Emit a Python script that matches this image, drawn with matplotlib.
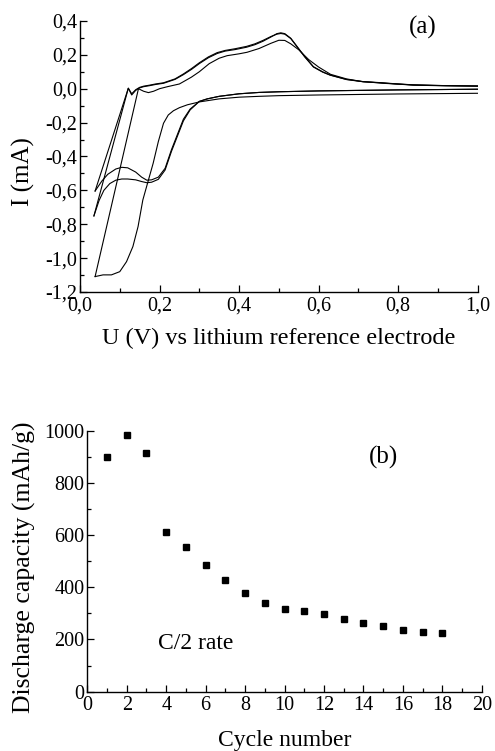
import matplotlib
matplotlib.use("Agg")
import matplotlib.pyplot as plt
from matplotlib.ticker import MultipleLocator, FuncFormatter

plt.rcParams['font.family'] = ['Liberation Serif', 'DejaVu Serif']

# ---------------- (a) cyclic voltammetry ----------------
# cycle 1 - cathodic scan (1.0 V -> 0.04 V)
c1_cat_U = [1.0, 0.9, 0.8, 0.7, 0.6, 0.5, 0.45, 0.4, 0.35, 0.3, 0.27, 0.25, 0.235, 0.222,
            0.21, 0.197, 0.184, 0.172, 0.158, 0.146, 0.133, 0.117, 0.1, 0.079, 0.058, 0.038]
c1_cat_I = [-0.027, -0.029, -0.031, -0.034, -0.037, -0.041, -0.045, -0.05, -0.06, -0.078,
            -0.095, -0.112, -0.13, -0.155, -0.204, -0.312, -0.44, -0.54, -0.657, -0.814,
            -0.932, -1.021, -1.08, -1.099, -1.099, -1.109]
# cycle 1 - anodic scan (0.04 V -> 1.0 V)
c1_an_U = [0.038, 0.147, 0.16, 0.172, 0.185, 0.2, 0.22, 0.25, 0.28, 0.3, 0.325, 0.35, 0.37,
           0.4, 0.42, 0.45, 0.48, 0.5, 0.515, 0.53, 0.55, 0.575, 0.6, 0.63, 0.67, 0.71,
           0.77, 0.84, 0.92, 1.0]
c1_an_I = [-1.109, 0.0, -0.015, -0.023, -0.015, 0.0, 0.012, 0.028, 0.068, 0.1, 0.148, 0.18,
           0.195, 0.206, 0.215, 0.237, 0.268, 0.286, 0.285, 0.265, 0.23, 0.172, 0.128,
           0.085, 0.058, 0.042, 0.031, 0.023, 0.018, 0.016]
# cycle 2 - cathodic
c2_cat_U = [1.0, 0.9, 0.8, 0.7, 0.6, 0.5, 0.45, 0.4, 0.35, 0.32, 0.3, 0.277, 0.26, 0.245,
            0.23, 0.214, 0.197, 0.18, 0.168, 0.155, 0.14, 0.12, 0.105, 0.09, 0.07, 0.055, 0.038]
c2_cat_I = [-0.003, -0.005, -0.007, -0.01, -0.013, -0.018, -0.022, -0.03, -0.045, -0.06,
            -0.075, -0.12, -0.18, -0.27, -0.36, -0.47, -0.522, -0.538, -0.54, -0.522,
            -0.492, -0.467, -0.464, -0.474, -0.505, -0.545, -0.604]
# cycle 2 - anodic
c2_an_U = [0.038, 0.1215, 0.13, 0.14, 0.15, 0.16, 0.175, 0.19, 0.21, 0.239, 0.26, 0.281,
           0.3, 0.323, 0.345, 0.365, 0.39, 0.419, 0.44, 0.46, 0.48, 0.495, 0.505, 0.515,
           0.53, 0.545, 0.565, 0.587, 0.61, 0.629, 0.67, 0.712, 0.754, 0.8, 0.838, 0.9, 1.0]
c2_an_I = [-0.604, 0.003, -0.037, -0.01, 0.005, 0.012, 0.018, 0.025, 0.032, 0.055, 0.083,
           0.115, 0.148, 0.183, 0.208, 0.222, 0.231, 0.245, 0.26, 0.28, 0.305, 0.325,
           0.33, 0.325, 0.298, 0.252, 0.19, 0.13, 0.1, 0.081, 0.055, 0.042, 0.036, 0.028,
           0.022, 0.019, 0.016]
# cycle 3 - cathodic
c3_cat_U = [1.0, 0.9, 0.8, 0.7, 0.6, 0.5, 0.45, 0.4, 0.35, 0.32, 0.3, 0.277, 0.26, 0.245,
            0.23, 0.214, 0.197, 0.18, 0.168, 0.155, 0.14, 0.12, 0.105, 0.09, 0.075, 0.06,
            0.048, 0.035]
c3_cat_I = [-0.003, -0.005, -0.007, -0.01, -0.013, -0.018, -0.022, -0.03, -0.045, -0.06,
            -0.075, -0.125, -0.19, -0.28, -0.37, -0.48, -0.535, -0.552, -0.555, -0.548,
            -0.538, -0.533, -0.533, -0.54, -0.56, -0.6, -0.66, -0.751]
# cycle 3 - anodic
c3_an_U = [0.035, 0.1215, 0.13, 0.14, 0.15, 0.16, 0.175, 0.19, 0.21, 0.239, 0.26, 0.281,
           0.3, 0.323, 0.345, 0.365, 0.39, 0.419, 0.44, 0.46, 0.48, 0.495, 0.505, 0.515,
           0.53, 0.545, 0.565, 0.587, 0.61, 0.629, 0.67, 0.712, 0.754, 0.8, 0.838, 0.9, 1.0]
c3_an_I = [-0.751, 0.003, -0.03, -0.006, 0.008, 0.015, 0.021, 0.028, 0.035, 0.058, 0.087,
           0.12, 0.153, 0.188, 0.213, 0.226, 0.236, 0.25, 0.265, 0.285, 0.308, 0.322,
           0.326, 0.322, 0.296, 0.25, 0.188, 0.128, 0.098, 0.08, 0.054, 0.041, 0.035,
           0.027, 0.021, 0.018, 0.015]

# ---------------- (b) discharge capacity ----------------
cycles = [1, 2, 3, 4, 5, 6, 7, 8, 9, 10, 11, 12, 13, 14, 15, 16, 17, 18]
capacity = [900, 982, 916, 612, 554, 487, 427, 378, 341, 318, 310, 298, 280, 264, 250,
            236, 230, 224]

fig = plt.figure(figsize=(4.95, 7.51), dpi=100)

comma = FuncFormatter(lambda v, p: ("%.1f" % v).replace('.', ',').replace('-0,0', '0,0'))


def style(ax):
    for s in ('top', 'right'):
        ax.spines[s].set_visible(False)
    ax.tick_params(which='both', direction='in', top=False, right=False,
                   labelsize=14.5, width=0.9, pad=3)
    ax.tick_params(which='major', length=5)
    ax.tick_params(which='minor', length=3)
    ax.tick_params(axis='y', pad=2)
    for s in ('left', 'bottom'):
        ax.spines[s].set_linewidth(1.0)


ax1 = fig.add_axes([0.1616, 0.6112, 0.8034, 0.3609])
for U, I in [(c1_cat_U, c1_cat_I), (c1_an_U, c1_an_I), (c2_cat_U, c2_cat_I),
             (c2_an_U, c2_an_I), (c3_cat_U, c3_cat_I), (c3_an_U, c3_an_I)]:
    ax1.plot(U, I, color='black', lw=0.8)
ax1.set_xlim(0, 1.0)
ax1.set_ylim(-1.2, 0.4)
ax1.xaxis.set_major_locator(MultipleLocator(0.2))
ax1.xaxis.set_minor_locator(MultipleLocator(0.1))
ax1.yaxis.set_major_locator(MultipleLocator(0.2))
ax1.yaxis.set_minor_locator(MultipleLocator(0.1))
ax1.xaxis.set_major_formatter(comma)
ax1.yaxis.set_major_formatter(comma)
style(ax1)
ax1.set_xlabel('U (V) vs lithium reference electrode', fontsize=17.5, labelpad=9)
ax1.set_ylabel('I (mA)', fontsize=18)
ax1.yaxis.set_label_coords(-0.112, 0.443)
ax1.text(0.862, 0.36, '(a)', fontsize=18, ha='center', va='center')

ax2 = fig.add_axes([0.1764, 0.079, 0.7968, 0.3475])
ax2.plot(cycles, capacity, ls='none', marker='s', ms=4.2, color='black')
ax2.set_xlim(0, 20)
ax2.set_ylim(0, 1000)
ax2.xaxis.set_major_locator(MultipleLocator(2))
ax2.xaxis.set_minor_locator(MultipleLocator(1))
ax2.yaxis.set_major_locator(MultipleLocator(200))
ax2.yaxis.set_minor_locator(MultipleLocator(100))
style(ax2)
ax2.set_xlabel('Cycle number', fontsize=17, labelpad=11)
ax2.set_ylabel('Discharge capacity (mAh/g)', fontsize=18.5)
ax2.yaxis.set_label_coords(-0.13, 0.478)
ax2.text(15.0, 898, '(b)', fontsize=18, ha='center', va='center')
ax2.text(5.5, 183, 'C/2 rate', fontsize=17, ha='center', va='center')

fig.savefig('out.png', dpi=100)
